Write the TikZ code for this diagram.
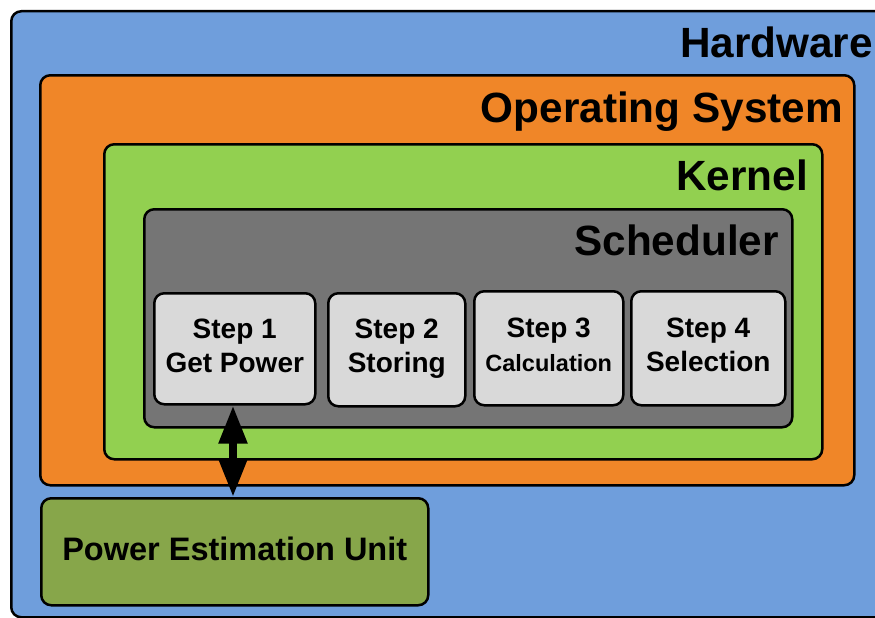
\documentclass[tikz,border=0pt]{standalone}
\usepackage{fontspec}
\setmainfont{Liberation Sans}
\usetikzlibrary{arrows.meta}
\definecolor{hwblue}{RGB}{111,158,220}
\definecolor{osorange}{RGB}{240,134,40}
\definecolor{kgreen}{RGB}{146,208,80}
\definecolor{sgray}{RGB}{117,117,117}
\definecolor{stepgray}{RGB}{217,217,217}
\definecolor{peugreen}{RGB}{135,166,74}
\begin{document}
\begin{tikzpicture}[x=1pt,y=-1pt,
  box/.style={draw=black, line width=2.5pt, rounded corners=10pt, inner sep=0pt, anchor=north west},
  lbl/.style={font=\bfseries\fontsize{42.3}{42}\selectfont, anchor=base east, inner sep=0pt},
  stepbox/.style={box, fill=stepgray},
  steptext/.style={align=center, inner sep=0pt, font=\bfseries\fontsize{28}{34}\selectfont},
  dblarrow/.style={line width=8pt, {Triangle[length=38pt,width=27pt]}-{Triangle[length=38pt,width=27pt]}}
]
\clip (0,0) rectangle (875,618);
\node[box, fill=hwblue, minimum width=880pt, minimum height=606pt] (hw) at (10,10) {};
\node[box, fill=osorange, minimum width=814pt, minimum height=410pt] (os) at (39,74) {};
\node[box, fill=kgreen, minimum width=718pt, minimum height=315pt] (kern) at (103,143) {};
\node[box, fill=sgray, minimum width=648pt, minimum height=218pt] (sched) at (143,208) {};
\node[lbl] (hwl) at (873,57) {Hardware};
\node[lbl] (osl) at (843,122) {Operating System};
\node[lbl] (kernl) at (808,190) {Kernel};
\node[lbl] (schedl) at (779,255) {Scheduler};
\node[stepbox, minimum width=161pt, minimum height=111pt] (s1) at (153,292) {};
\node[stepbox, minimum width=137pt, minimum height=113pt] (s2) at (327,292) {};
\node[stepbox, minimum width=149pt, minimum height=114pt] (s3) at (473,290) {};
\node[stepbox, minimum width=154pt, minimum height=114pt] (s4) at (630,290) {};
\node[steptext, yshift=3pt] (t1) at (s1.center) {Step 1\\Get Power};
\node[steptext, yshift=1pt] (t2) at (s2.center) {Step 2\\Storing};
\node[steptext, yshift=3pt] (t3) at (s3.center) {Step 3\\{\fontsize{23.5}{23}\selectfont Calculation}};
\node[steptext, yshift=3pt] (t4) at (s4.center) {Step 4\\Selection};
\node[box, fill=peugreen, minimum width=387pt, minimum height=107pt] (peu) at (40,497) {};
\node[inner sep=0pt, yshift=3pt, font=\bfseries\fontsize{32.5}{32}\selectfont] (peut) at (peu.center) {Power Estimation Unit};
\draw[dblarrow] (s1.south -| 233,0) -- (peu.north -| 233,0);
\end{tikzpicture}
\end{document}
